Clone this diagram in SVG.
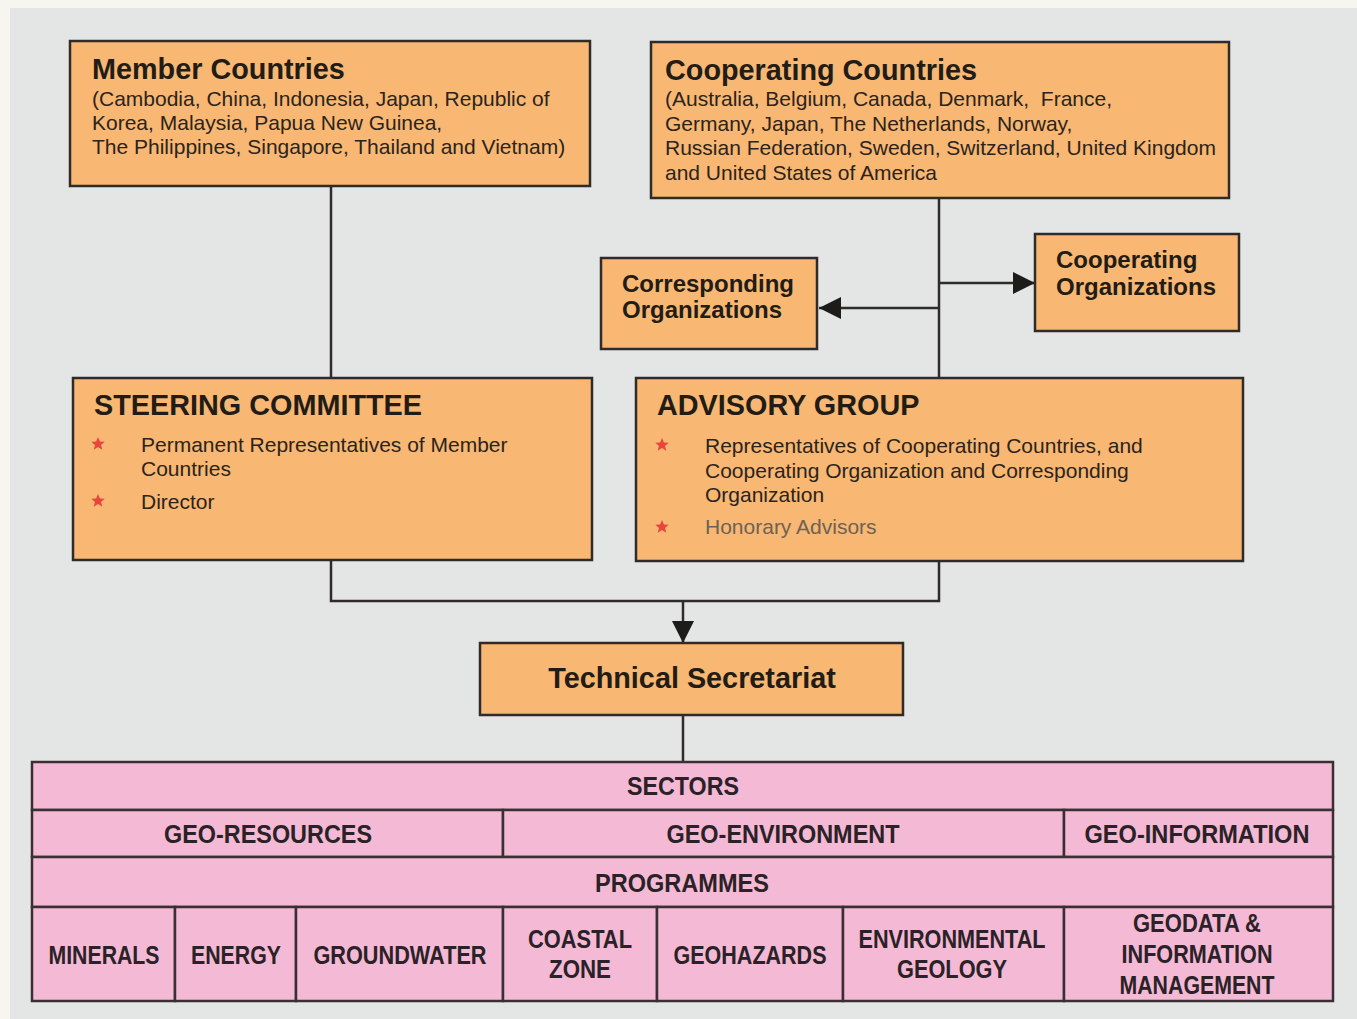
<svg xmlns="http://www.w3.org/2000/svg" width="1357" height="1019" viewBox="0 0 1357 1019">
<style>
.box{fill:#f8b772;stroke:#2e2b28;stroke-width:2.5}
.cell{fill:#f4b9d5;stroke:#3a3034;stroke-width:2.5}
.ln{fill:none;stroke:#2e2b28;stroke-width:2.5}
.t{font-family:"Liberation Sans",Arial,sans-serif;fill:#221c16}
.h{font-weight:bold;font-size:28.8px}
.b{font-size:21px;fill:#2b241c}
.o{font-weight:bold;font-size:24px}
.tb{font-family:"Liberation Sans",Arial,sans-serif;font-weight:bold;font-size:25px;fill:#2a2226;text-anchor:middle}
.star{fill:#e8453c}
</style>
<defs>
<marker id="ah" markerUnits="userSpaceOnUse" markerWidth="22" markerHeight="22" viewBox="0 0 20 20" refX="20" refY="10" orient="auto">
<path d="M0,0 L20,10 L0,20 Z" fill="#1e1c1a"/>
</marker>
<symbol id="st" viewBox="-10 -10 20 20" overflow="visible">
<polygon points="0,-7 1.9,-2.4 6.7,-2.2 3,0.9 4.3,5.7 0,3 -4.3,5.7 -3,0.9 -6.7,-2.2 -1.9,-2.4"/>
</symbol>
</defs>
<rect x="0" y="0" width="1357" height="1019" fill="#f6f5f0"/>
<rect x="10" y="8" width="1347" height="1011" fill="#e3e6e5"/>

<g id="connectors">
<path class="ln" d="M331,186 V378"/>
<path class="ln" d="M939,198 V378"/>
<path class="ln" d="M939,308 H819" marker-end="url(#ah)"/>
<path class="ln" d="M939,283 H1035" marker-end="url(#ah)"/>
<path class="ln" d="M331,560 V601 H939 V561"/>
<path class="ln" d="M683,601 V643" marker-end="url(#ah)"/>
<path class="ln" d="M683,715 V762"/>
</g>

<g id="member-countries">
<rect class="box" x="70" y="41" width="520" height="145"/>
<text class="t h" x="92" y="79">Member Countries</text>
<text class="t b" x="92" y="106">(Cambodia, China, Indonesia, Japan, Republic of</text>
<text class="t b" x="92" y="130">Korea, Malaysia, Papua New Guinea,</text>
<text class="t b" x="92" y="154">The Philippines, Singapore, Thailand and Vietnam)</text>
</g>

<g id="cooperating-countries">
<rect class="box" x="651" y="42" width="578" height="156"/>
<text class="t h" x="665" y="80">Cooperating Countries</text>
<text class="t b" x="665" y="106" xml:space="preserve">(Australia, Belgium, Canada, Denmark,  France,</text>
<text class="t b" x="665" y="131">Germany, Japan, The Netherlands, Norway,</text>
<text class="t b" x="665" y="155">Russian Federation, Sweden, Switzerland, United Kingdom</text>
<text class="t b" x="665" y="180">and United States of America</text>
</g>

<g id="corresponding-organizations">
<rect class="box" x="601" y="258" width="216" height="91"/>
<text class="t o" x="622" y="292">Corresponding</text>
<text class="t o" x="622" y="318">Organizations</text>
</g>

<g id="cooperating-organizations">
<rect class="box" x="1035" y="234" width="204" height="97"/>
<text class="t o" x="1056" y="268">Cooperating</text>
<text class="t o" x="1056" y="295">Organizations</text>
</g>

<g id="steering-committee">
<rect class="box" x="73" y="378" width="519" height="182"/>
<text class="t h" x="94" y="415">STEERING COMMITTEE</text>
<use href="#st" class="star" x="88" y="434" width="20" height="20"/>
<text class="t b" x="141" y="452">Permanent Representatives of Member</text>
<text class="t b" x="141" y="476">Countries</text>
<use href="#st" class="star" x="88" y="491" width="20" height="20"/>
<text class="t b" x="141" y="509">Director</text>
</g>

<g id="advisory-group">
<rect class="box" x="636" y="378" width="607" height="183"/>
<text class="t h" x="657" y="415">ADVISORY GROUP</text>
<use href="#st" class="star" x="652" y="435" width="20" height="20"/>
<text class="t b" x="705" y="453">Representatives of Cooperating Countries, and</text>
<text class="t b" x="705" y="478">Cooperating Organization and Corresponding</text>
<text class="t b" x="705" y="502">Organization</text>
<use href="#st" class="star" x="652" y="517" width="20" height="20"/>
<text class="t b" x="705" y="534" style="fill:#6e6255">Honorary Advisors</text>
</g>

<g id="technical-secretariat">
<rect class="box" x="480" y="643" width="423" height="72"/>
<text class="t h" x="692" y="688" text-anchor="middle">Technical Secretariat</text>
</g>

<g id="sectors-programmes">
<rect class="cell" x="32" y="762" width="1301" height="48"/>
<rect class="cell" x="32" y="810" width="471" height="47"/>
<rect class="cell" x="503" y="810" width="561" height="47"/>
<rect class="cell" x="1064" y="810" width="269" height="47"/>
<rect class="cell" x="32" y="857" width="1301" height="50"/>
<rect class="cell" x="32" y="907" width="143" height="94"/>
<rect class="cell" x="175" y="907" width="121" height="94"/>
<rect class="cell" x="296" y="907" width="207" height="94"/>
<rect class="cell" x="503" y="907" width="154" height="94"/>
<rect class="cell" x="657" y="907" width="186" height="94"/>
<rect class="cell" x="843" y="907" width="221" height="94"/>
<rect class="cell" x="1064" y="907" width="269" height="94"/>
<text class="tb" x="683" y="795" textLength="112" lengthAdjust="spacingAndGlyphs">SECTORS</text>
<text class="tb" x="268" y="843" textLength="208" lengthAdjust="spacingAndGlyphs">GEO-RESOURCES</text>
<text class="tb" x="783" y="843" textLength="233" lengthAdjust="spacingAndGlyphs">GEO-ENVIRONMENT</text>
<text class="tb" x="1197" y="843" textLength="225" lengthAdjust="spacingAndGlyphs">GEO-INFORMATION</text>
<text class="tb" x="682" y="892" textLength="174" lengthAdjust="spacingAndGlyphs">PROGRAMMES</text>
<text class="tb" x="104" y="964" textLength="111" lengthAdjust="spacingAndGlyphs">MINERALS</text>
<text class="tb" x="236" y="964" textLength="90" lengthAdjust="spacingAndGlyphs">ENERGY</text>
<text class="tb" x="400" y="964" textLength="173" lengthAdjust="spacingAndGlyphs">GROUNDWATER</text>
<text class="tb" x="580" y="948" textLength="104" lengthAdjust="spacingAndGlyphs">COASTAL</text>
<text class="tb" x="580" y="978" textLength="62" lengthAdjust="spacingAndGlyphs">ZONE</text>
<text class="tb" x="750" y="964" textLength="153" lengthAdjust="spacingAndGlyphs">GEOHAZARDS</text>
<text class="tb" x="952" y="948" textLength="187" lengthAdjust="spacingAndGlyphs">ENVIRONMENTAL</text>
<text class="tb" x="952" y="978" textLength="110" lengthAdjust="spacingAndGlyphs">GEOLOGY</text>
<text class="tb" x="1197" y="932" textLength="128" lengthAdjust="spacingAndGlyphs">GEODATA &amp;</text>
<text class="tb" x="1197" y="963" textLength="151" lengthAdjust="spacingAndGlyphs">INFORMATION</text>
<text class="tb" x="1197" y="994" textLength="155" lengthAdjust="spacingAndGlyphs">MANAGEMENT</text>
</g>
</svg>
